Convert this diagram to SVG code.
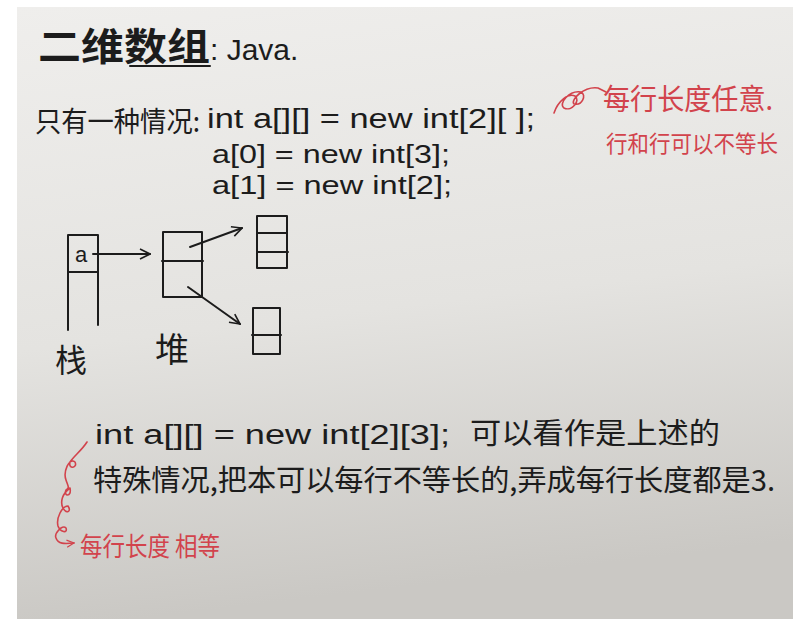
<svg xmlns="http://www.w3.org/2000/svg" width="800" height="631" viewBox="0 0 800 631">
<defs>
<linearGradient id="paper" x1="0" y1="0" x2="0.15" y2="1">
<stop offset="0" stop-color="#efeeec"/>
<stop offset="0.55" stop-color="#e4e3e0"/>
<stop offset="1" stop-color="#cac8c4"/>
</linearGradient>
<marker id="ah" viewBox="0 0 12 12" refX="11" refY="6" markerWidth="12" markerHeight="12" markerUnits="userSpaceOnUse" orient="auto">
<path d="M1,1 L11,6 L1,11" fill="none" stroke="#1c1c1c" stroke-width="1.6"/>
</marker>
<marker id="ahr" viewBox="0 0 10 10" refX="9" refY="5" markerWidth="9" markerHeight="9" markerUnits="userSpaceOnUse" orient="auto">
<path d="M1,1 L9,5 L1,9" fill="none" stroke="#d2434c" stroke-width="1.4"/>
</marker>
</defs>
<style>
.ink{fill:#1c1c1c;font-family:"Noto Sans CJK SC","Liberation Sans",sans-serif;}
.code{fill:#1c1c1c;font-family:"Liberation Sans","Noto Sans CJK SC",sans-serif;}
.red{fill:#d2434c;font-family:"Noto Sans CJK SC","Liberation Sans",sans-serif;}
.ln{fill:none;stroke:#1c1c1c;stroke-width:2;stroke-linecap:round;stroke-linejoin:round;}
.rl{fill:none;stroke:#d2434c;stroke-width:1.6;stroke-linecap:round;stroke-linejoin:round;}
</style>
<rect width="800" height="631" fill="#ffffff"/>
<rect x="17" y="7" width="776" height="612" fill="url(#paper)"/>

<g id="title">
<text class="ink" x="38" y="60" font-size="38" font-weight="bold" textLength="172" lengthAdjust="spacingAndGlyphs">二维数组</text>
<text class="code" x="210" y="60" font-size="30">: Java.</text>
<line class="ln" x1="130" y1="66" x2="210" y2="66"/>
</g>

<g id="line1">
<text class="ink" x="35" y="132" font-size="28" textLength="165" lengthAdjust="spacingAndGlyphs">只有一种情况:</text>
<text class="code" x="207" y="128" font-size="27" textLength="328" lengthAdjust="spacingAndGlyphs">int a[][] = new int[2][ ];</text>
<text class="code" x="212" y="163" font-size="26" textLength="238" lengthAdjust="spacingAndGlyphs">a[0]  = new int[3];</text>
<text class="code" x="212" y="194" font-size="26" textLength="240" lengthAdjust="spacingAndGlyphs">a[1] = new int[2];</text>
</g>

<g id="note-top">
<path class="rl" d="M554,113 C558,101 568,93 575,96 C581,100 572,112 564,108 C558,104 569,90 581,92 C587,95 582,106 574,104 C570,100 584,86 598,88 L606,92"/>
<text class="red" x="603" y="110" font-size="29" textLength="170" lengthAdjust="spacingAndGlyphs">每行长度任意.</text>
<text class="red" x="606" y="152" font-size="23" textLength="172" lengthAdjust="spacingAndGlyphs">行和行可以不等长</text>
</g>

<g id="stack">
<path class="ln" d="M68,330 L68,235 L98,235 L98,325"/>
<line class="ln" x1="68" y1="272" x2="98" y2="272"/>
<text class="code" x="75" y="262" font-size="22">a</text>
<text class="ink" x="55" y="372" font-size="32">栈</text>
</g>

<g id="heap">
<rect class="ln" x="163" y="232" width="39" height="65"/>
<line class="ln" x1="162" y1="261" x2="203" y2="261"/>
<text class="ink" x="155" y="362" font-size="34">堆</text>
</g>

<g id="row0">
<rect class="ln" x="257" y="216" width="30" height="52"/>
<line class="ln" x1="257" y1="233" x2="287" y2="233"/>
<line class="ln" x1="257" y1="252" x2="288" y2="252"/>
</g>

<g id="row1">
<rect class="ln" x="253" y="308" width="27" height="46"/>
<line class="ln" x1="252" y1="335" x2="281" y2="335"/>
</g>

<g id="connectors">
<line class="ln" x1="93" y1="254" x2="150" y2="254" marker-end="url(#ah)"/>
<line class="ln" x1="190" y1="247" x2="242" y2="228" marker-end="url(#ah)"/>
<line class="ln" x1="188" y1="287" x2="240" y2="324" marker-end="url(#ah)"/>
</g>

<g id="para">
<text class="code" x="95" y="444" font-size="27" textLength="355" lengthAdjust="spacingAndGlyphs">int a[][] = new int[2][3];</text>
<text class="ink" x="470" y="444" font-size="29" textLength="250" lengthAdjust="spacingAndGlyphs">可以看作是上述的</text>
<text class="ink" x="93" y="491" font-size="29" textLength="682" lengthAdjust="spacingAndGlyphs">特殊情况,把本可以每行不等长的,弄成每行长度都是3.</text>
</g>

<g id="note-bottom">
<path class="rl" d="M87,442 C82,450 74,456 70,462 C68,470 78,468 75,462 C69,457 63,472 66,480 C68,486 70,488 66,490 C63,496 72,498 70,488 C62,494 60,502 63,508 C66,514 72,512 68,506 C62,506 56,518 58,526 C60,532 68,534 66,528 C62,524 54,534 56,538 C58,544 64,544 74,543" marker-end="url(#ahr)"/>
<text class="red" x="80" y="556" font-size="26" textLength="140" lengthAdjust="spacingAndGlyphs">每行长度 相等</text>
</g>
</svg>
